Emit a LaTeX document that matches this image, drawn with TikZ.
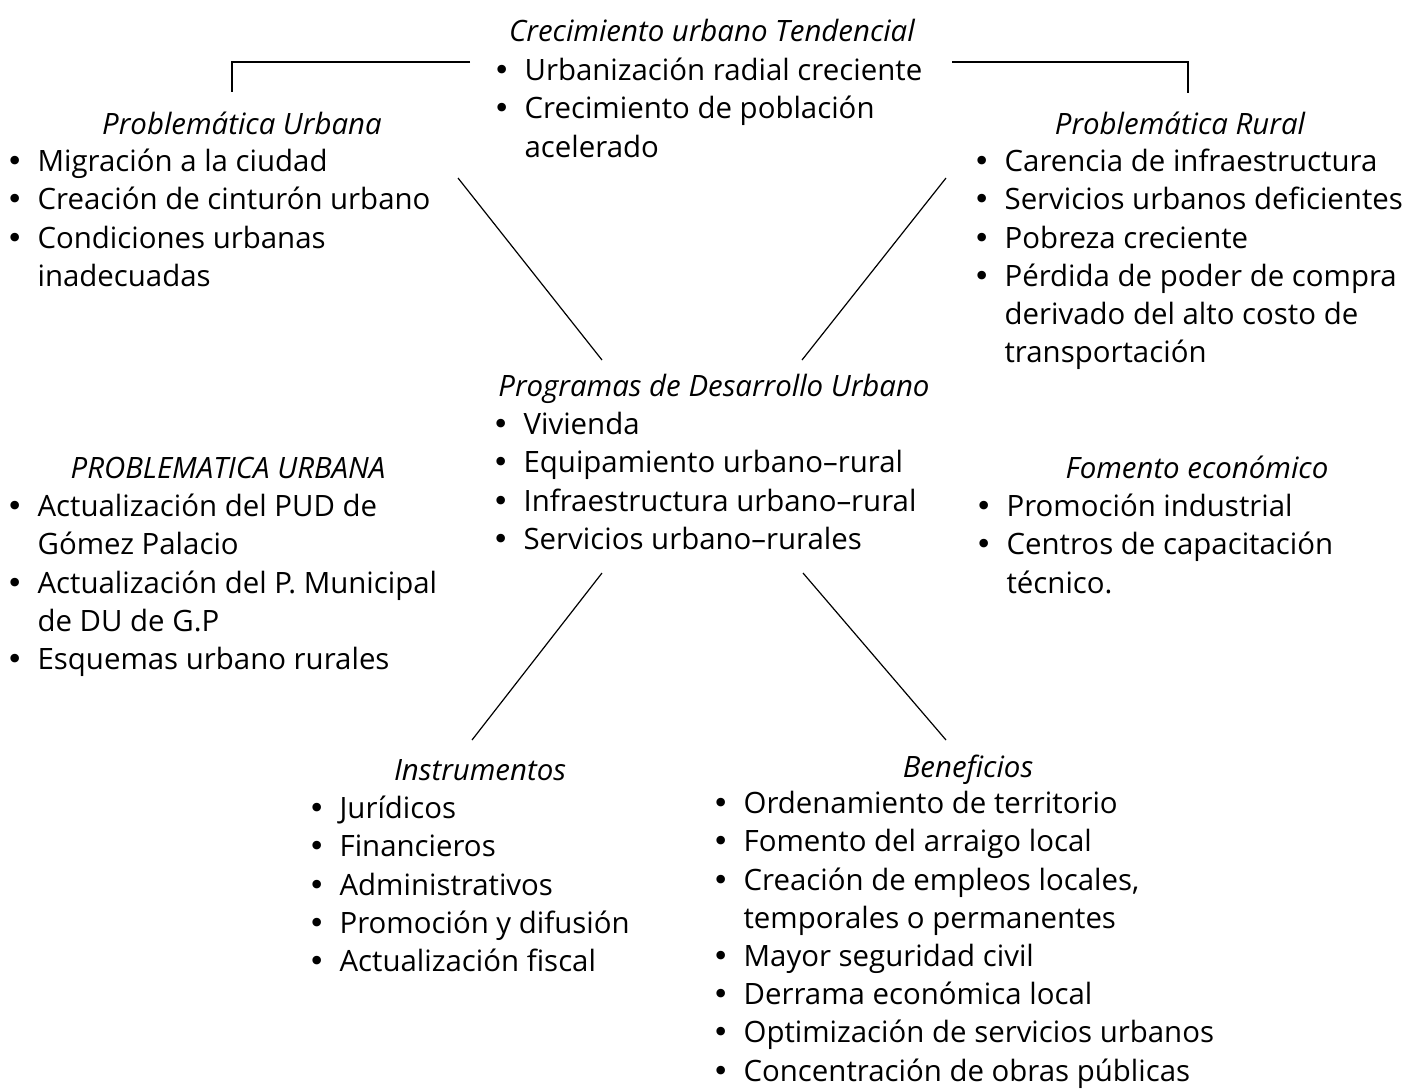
\documentclass[tikz,border=0pt]{standalone}
\usepackage{fontspec}
\setmainfont{Open Sans}
\newfontfamily\blfont{DejaVu Sans}
\newcommand{\bl}{\strut\makebox[11pt][l]{\makebox[0pt][c]{\blfont •}}}
\newcommand{\sg}{\strut\hspace*{11pt}}
\begin{document}
\begin{tikzpicture}[x=0.5pt, y=-0.5pt, line width=0.6pt,
  titulo/.style={anchor=base, inner sep=0, font=\fontsize{14.7}{19.1}\selectfont\itshape},
  lista/.style={anchor=north west, inner sep=0, align=left, font=\fontsize{14.7}{19.1}\selectfont}]
\useasboundingbox (0,0) rectangle (1407,1089);
% crecimiento tendencial
\node[titulo] (tCre) at (712,41) {Crecimiento urbano Tendencial};
\node[lista] (lCre) at (502,53.4) {\bl Urbanización radial creciente\\ \bl Crecimiento de población\\ \sg acelerado};
% problematica urbana
\node[titulo] (tPU) at (242,134) {Problemática Urbana};
\node[lista] (lPU) at (15,144.4) {\bl Migración a la ciudad\\ \bl Creación de cinturón urbano\\ \bl Condiciones urbanas\\ \sg inadecuadas};
% problematica rural
\node[titulo] (tPR) at (1180,134) {Problemática Rural};
\node[lista] (lPR) at (982,144.4) {\bl Carencia de infraestructura\\ \bl Servicios urbanos deficientes\\ \bl Pobreza creciente\\ \bl Pérdida de poder de compra\\ \sg derivado del alto costo de\\ \sg transportación};
% programas
\node[titulo] (tPDU) at (714,396) {Programas de Desarrollo Urbano};
\node[lista] (lPDU) at (501,407.4) {\bl Vivienda\\ \bl Equipamiento urbano–rural\\ \bl Infraestructura urbano–rural\\ \bl Servicios urbano–rurales};
% problematica urbana (mayusculas)
\node[titulo] (tPU2) at (228,478) {PROBLEMATICA URBANA};
\node[lista] (lPU2) at (15,489.4) {\bl Actualización del PUD de\\ \sg Gómez Palacio\\ \bl Actualización del P. Municipal\\ \sg de DU de G.P\\ \bl Esquemas urbano rurales};
% fomento
\node[titulo] (tFE) at (1197,478) {Fomento económico};
\node[lista] (lFE) at (984,489.4) {\bl Promoción industrial\\ \bl Centros de capacitación\\ \sg técnico.};
% instrumentos
\node[titulo] (tIns) at (480,780) {Instrumentos};
\node[lista] (lIns) at (317,791.4) {\bl Jurídicos\\ \bl Financieros\\ \bl Administrativos\\ \bl Promoción y difusión\\ \bl Actualización fiscal};
% beneficios
\node[titulo] (tBen) at (968,777) {Beneficios};
\node[lista] (lBen) at (721,786.4) {\bl Ordenamiento de territorio\\ \bl Fomento del arraigo local\\ \bl Creación de empleos locales,\\ \sg temporales o permanentes\\ \bl Mayor seguridad civil\\ \bl Derrama económica local\\ \bl Optimización de servicios urbanos\\ \bl Concentración de obras públicas};
% conectores
\coordinate (brL1) at (470,62);
\coordinate (brL2) at (232,92);
\coordinate (brR1) at (952,62);
\coordinate (brR2) at (1188,93);
\coordinate (ulA) at (458,178);
\coordinate (ulB) at (602,360);
\coordinate (urA) at (946,178);
\coordinate (urB) at (802,360);
\coordinate (llA) at (602,573);
\coordinate (llB) at (472,740);
\coordinate (lrA) at (803,573);
\coordinate (lrB) at (946,740);
\draw (brL1) -| (brL2);
\draw (brR1) -| (brR2);
\draw (ulA) -- (ulB);
\draw (urA) -- (urB);
\draw (llA) -- (llB);
\draw (lrA) -- (lrB);
\end{tikzpicture}
\end{document}
